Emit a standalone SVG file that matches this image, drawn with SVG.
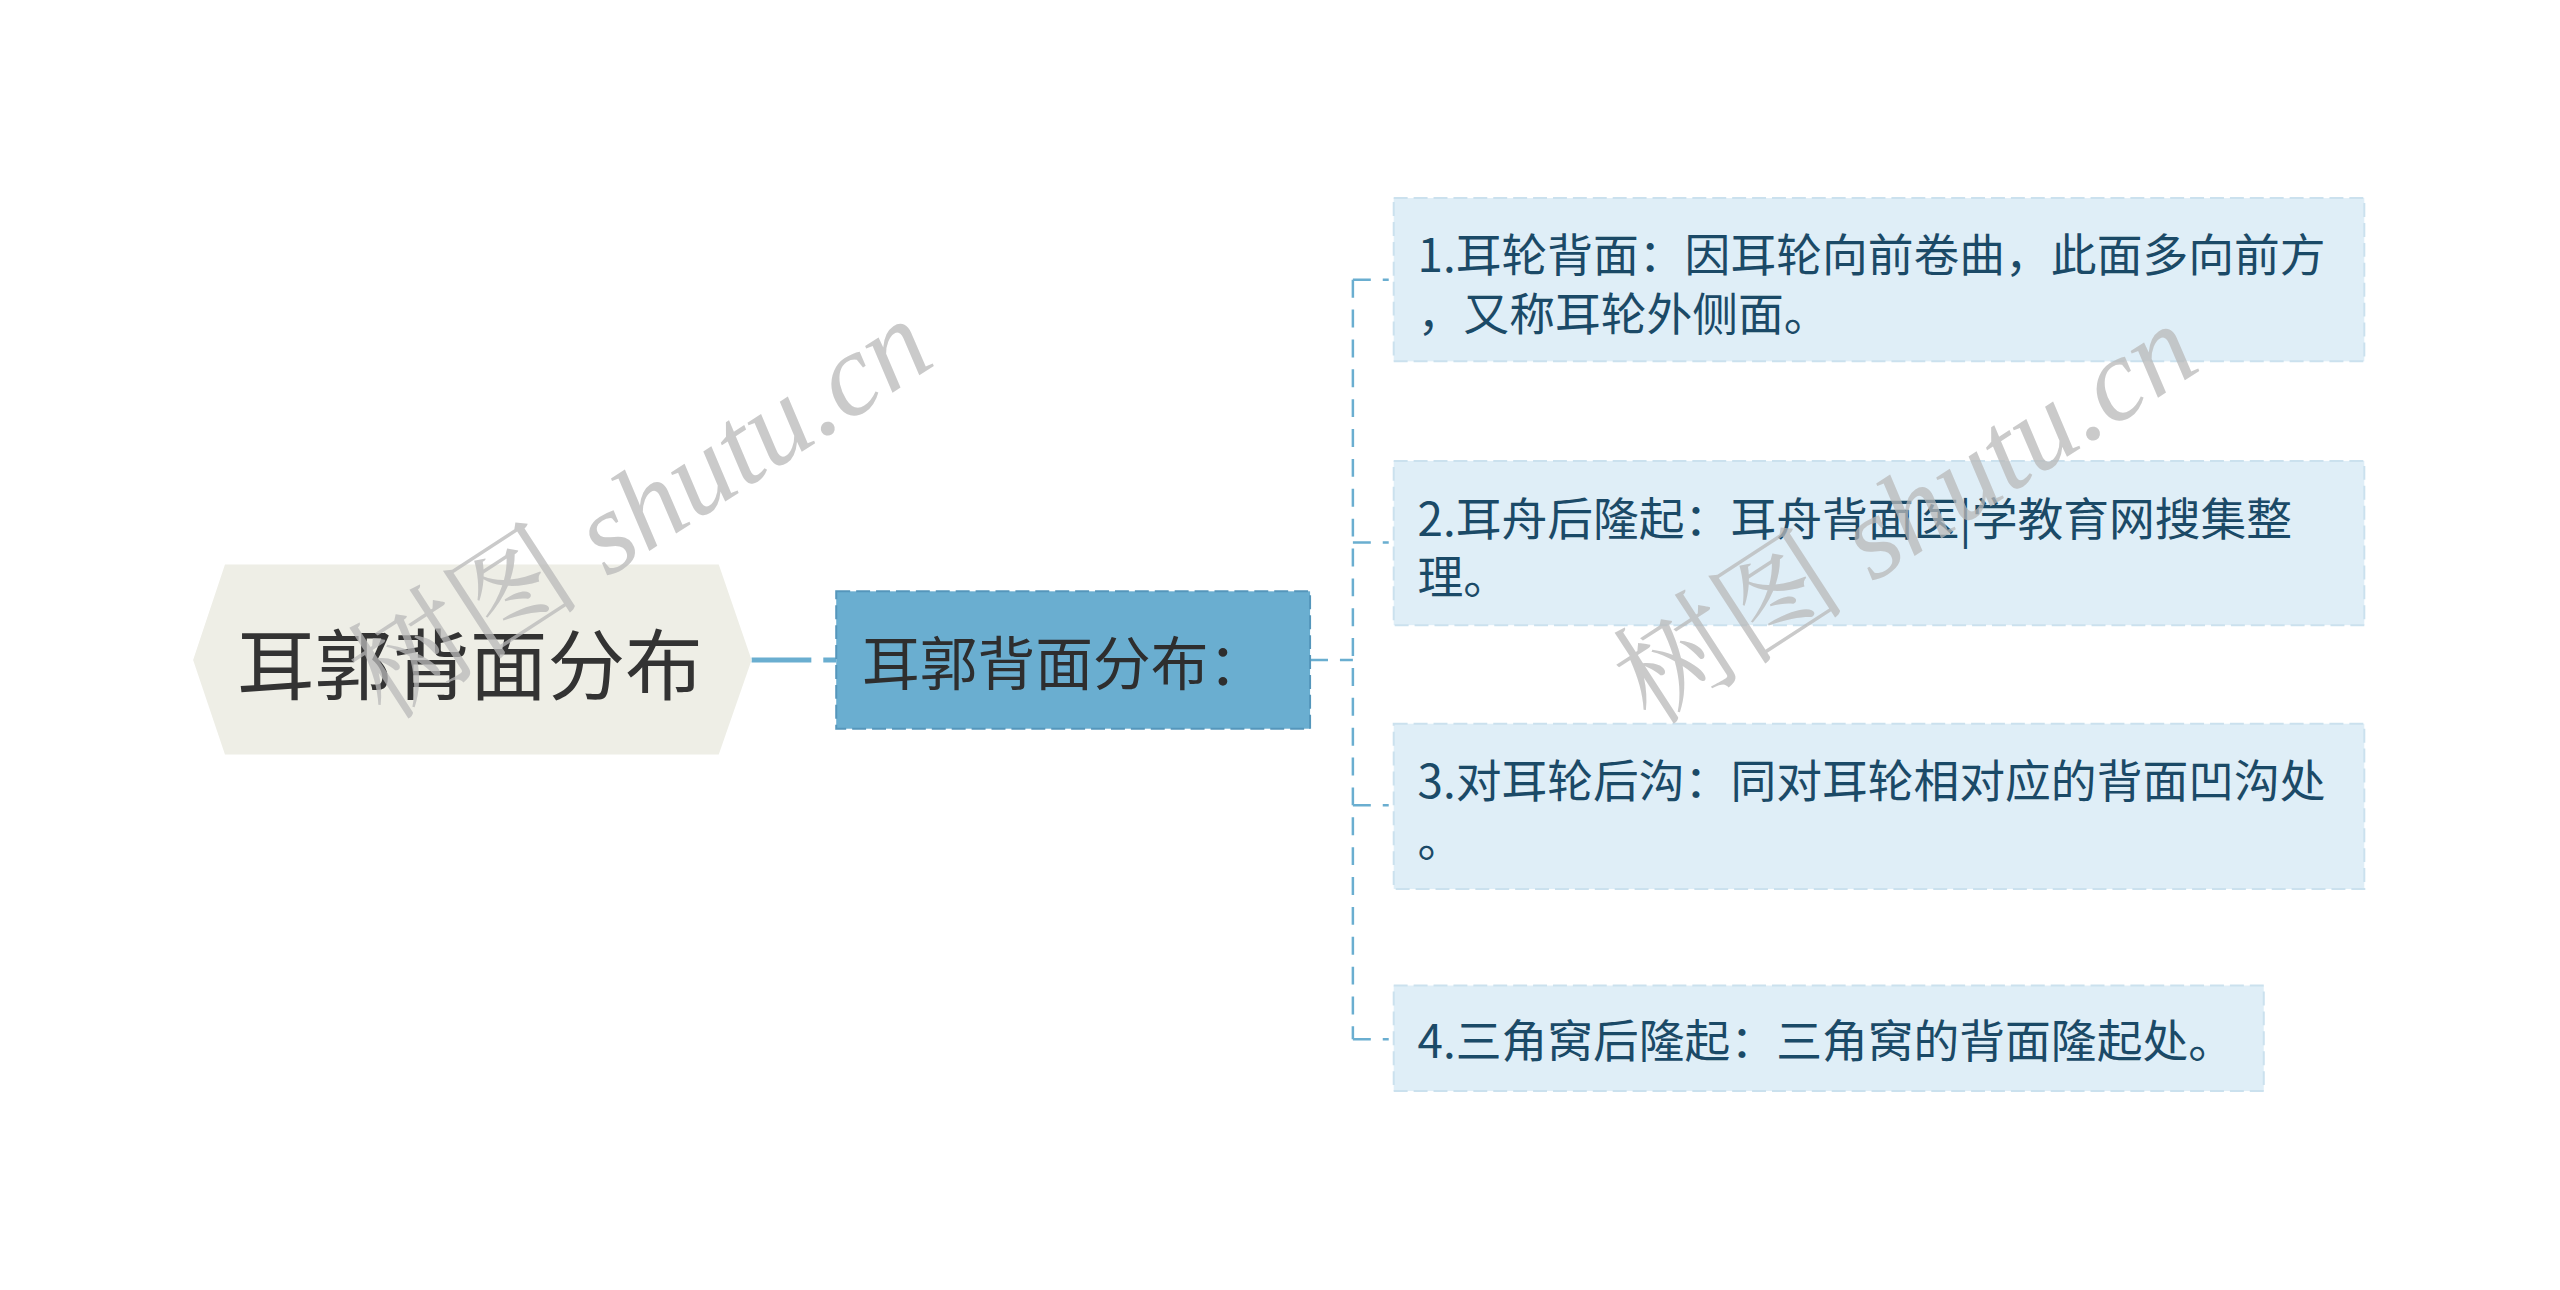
<svg xmlns="http://www.w3.org/2000/svg" width="2560" height="1290" viewBox="0 0 2560 1290">
<style>
.cjk{font-family:"Noto Sans CJK SC","Noto Sans",sans-serif;}
.root{font-size:78px;fill:#333333;}
.sub{font-size:58px;fill:#2e2e2e;}
.leaf{font-size:46px;fill:#1b4a67;}
.leafbox{fill:#dfeef7;stroke:#cbe1ee;stroke-width:2;stroke-dasharray:14 6;}
.conn{fill:none;stroke:#6aaed0;stroke-width:2.5;stroke-dasharray:18 12;}
.wm{font-family:"Liberation Serif",serif;font-style:italic;font-size:118px;fill:#b9b9b9;opacity:0.75;}
.wmc{font-family:"Noto Serif CJK SC","Noto Sans CJK SC",serif;font-style:normal;}
</style>
<rect width="2560" height="1290" fill="#ffffff"/>
<g transform="scale(0.9955)">
<g id="connectors">
<line x1="755" y1="663" x2="840" y2="663" stroke="#6aaed0" stroke-width="5" stroke-dasharray="60 12"/>
<line x1="1316" y1="663" x2="1359" y2="663" class="conn"/>
<line x1="1359" y1="281" x2="1359" y2="1044" class="conn"/>
<line x1="1359" y1="281" x2="1395" y2="281" class="conn"/>
<line x1="1359" y1="545" x2="1395" y2="545" class="conn"/>
<line x1="1359" y1="809" x2="1395" y2="809" class="conn"/>
<line x1="1359" y1="1044" x2="1395" y2="1044" class="conn"/>
</g>
<g id="root">
<polygon points="194,663 226,567 722,567 755,663 722,758 226,758" fill="#eeeee6"/>
<text x="472" y="663" class="cjk root" text-anchor="middle" dominant-baseline="central">耳郭背面分布</text>
</g>
<g id="sub">
<rect x="840" y="594" width="476" height="138" fill="#6aaed0" stroke="#5596bb" stroke-width="2" stroke-dasharray="14 6"/>
<text x="866" y="663" class="cjk sub" dominant-baseline="central">耳郭背面分布：</text>
</g>
<g id="leaf1">
<rect x="1400" y="199" width="975" height="164" class="leafbox"/>
<text class="cjk leaf" dominant-baseline="central"><tspan x="1424" y="253">1.耳轮背面：因耳轮向前卷曲，此面多向前方</tspan><tspan x="1424" y="312">，又称耳轮外侧面。</tspan></text>
</g>
<g id="leaf2">
<rect x="1400" y="463" width="975" height="165" class="leafbox"/>
<text class="cjk leaf" dominant-baseline="central"><tspan x="1424" y="518">2.耳舟后隆起：耳舟背面医|学教育网搜集整</tspan><tspan x="1424" y="577">理。</tspan></text>
</g>
<g id="leaf3">
<rect x="1400" y="727" width="975" height="166" class="leafbox"/>
<text class="cjk leaf" dominant-baseline="central"><tspan x="1424" y="782">3.对耳轮后沟：同对耳轮相对应的背面凹沟处</tspan><tspan x="1424" y="841">。</tspan></text>
</g>
<g id="leaf4">
<rect x="1400" y="990" width="874" height="106" class="leafbox"/>
<text x="1424" y="1043" class="cjk leaf" dominant-baseline="central">4.三角窝后隆起：三角窝的背面隆起处。</text>
</g>
<g id="watermarks">
<text class="wm" text-anchor="middle" transform="translate(665,545) rotate(-33)"><tspan class="wmc">树图</tspan> shutu.cn</text>
<text class="wm" text-anchor="middle" transform="translate(1936,550) rotate(-33)"><tspan class="wmc">树图</tspan> shutu.cn</text>
</g>
</g>
</svg>
